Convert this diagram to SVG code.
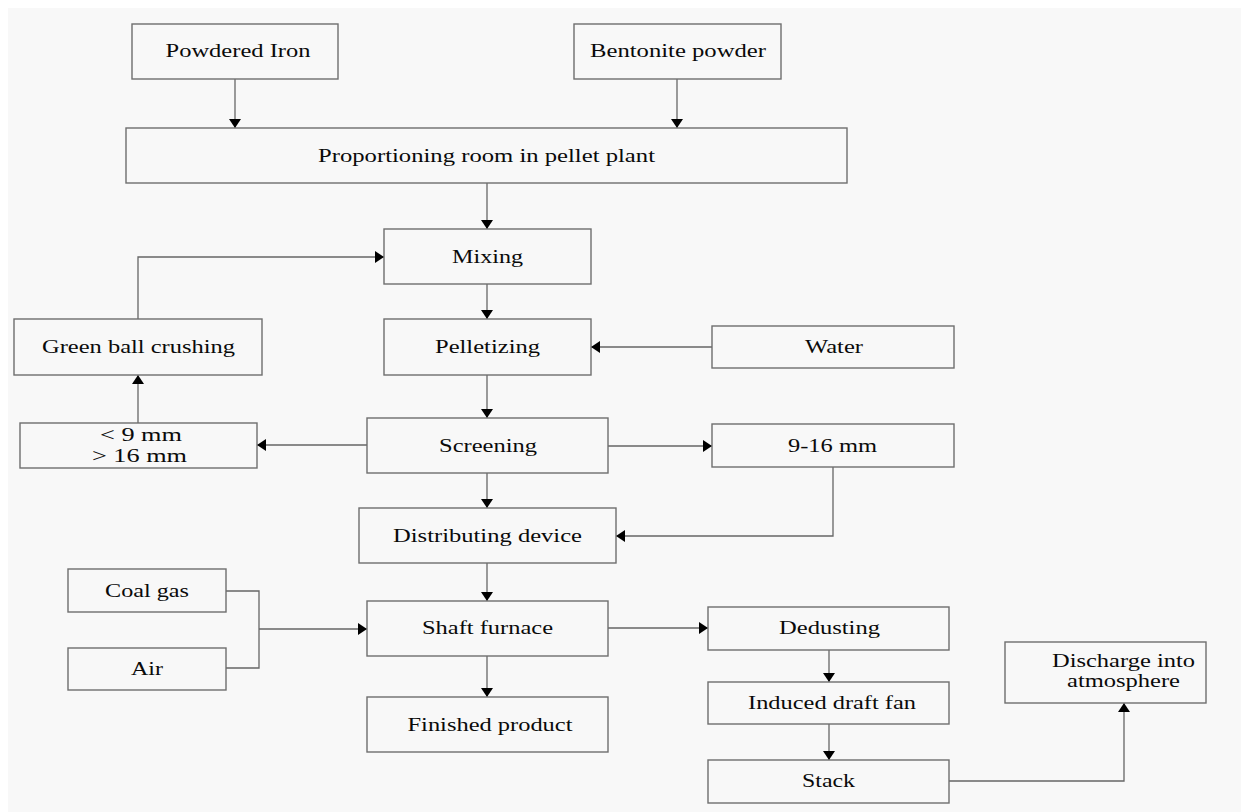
<svg xmlns="http://www.w3.org/2000/svg" width="1241" height="812" viewBox="0 0 1241 812">
<style>
.box{fill:none;stroke:#6e6e6e;stroke-width:1.4}
.lbl{font-family:"Liberation Serif","Times New Roman",serif;font-size:18px;fill:#0a0a0a;text-anchor:middle}
.con{fill:none;stroke:#666;stroke-width:1.3}
</style>
<defs>
<marker id="ah" viewBox="0 0 9 12" refX="9" refY="6" markerWidth="9" markerHeight="12" markerUnits="userSpaceOnUse" orient="auto">
<path d="M0,0 L9,6 L0,12 z" fill="#000"/>
</marker>
</defs>
<rect x="0" y="0" width="1241" height="812" fill="#ffffff"/>
<rect x="8" y="8" width="1233" height="804" fill="#f8f8f8"/>

<g id="connectors">
<path class="con" d="M235,79 V128" marker-end="url(#ah)"/>
<path class="con" d="M677,79 V128" marker-end="url(#ah)"/>
<path class="con" d="M487,183 V229" marker-end="url(#ah)"/>
<path class="con" d="M487,284 V319" marker-end="url(#ah)"/>
<path class="con" d="M487,375 V418" marker-end="url(#ah)"/>
<path class="con" d="M487,473 V508" marker-end="url(#ah)"/>
<path class="con" d="M487,563 V601" marker-end="url(#ah)"/>
<path class="con" d="M487,656 V697" marker-end="url(#ah)"/>
<path class="con" d="M712,347 H591" marker-end="url(#ah)"/>
<path class="con" d="M608,446 H712" marker-end="url(#ah)"/>
<path class="con" d="M367,445 H257" marker-end="url(#ah)"/>
<path class="con" d="M138,423 V375" marker-end="url(#ah)"/>
<path class="con" d="M138,319 V257 H384" marker-end="url(#ah)"/>
<path class="con" d="M833,467 V536 H616" marker-end="url(#ah)"/>
<path class="con" d="M226,591 H259 V668 H226"/>
<path class="con" d="M259,629 H367" marker-end="url(#ah)"/>
<path class="con" d="M608,628 H708" marker-end="url(#ah)"/>
<path class="con" d="M829,650 V682" marker-end="url(#ah)"/>
<path class="con" d="M829,724 V760" marker-end="url(#ah)"/>
<path class="con" d="M949,781 H1124 V703" marker-end="url(#ah)"/>
</g>

<g id="powdered-iron"><rect class="box" x="132" y="24" width="206" height="55"/><text class="lbl" x="238" y="57" textLength="145" lengthAdjust="spacingAndGlyphs">Powdered Iron</text></g>
<g id="bentonite"><rect class="box" x="574" y="24" width="207" height="55"/><text class="lbl" x="678" y="57" textLength="176" lengthAdjust="spacingAndGlyphs">Bentonite powder</text></g>
<g id="proportioning"><rect class="box" x="126" y="128" width="721" height="55"/><text class="lbl" x="486.5" y="162" textLength="337" lengthAdjust="spacingAndGlyphs">Proportioning room in pellet plant</text></g>
<g id="mixing"><rect class="box" x="384" y="229" width="207" height="55"/><text class="lbl" x="487.5" y="263" textLength="71" lengthAdjust="spacingAndGlyphs">Mixing</text></g>
<g id="pelletizing"><rect class="box" x="384" y="319" width="207" height="56"/><text class="lbl" x="487.5" y="353" textLength="105" lengthAdjust="spacingAndGlyphs">Pelletizing</text></g>
<g id="water"><rect class="box" x="712" y="326" width="242" height="42"/><text class="lbl" x="834" y="353" textLength="58" lengthAdjust="spacingAndGlyphs">Water</text></g>
<g id="green-ball"><rect class="box" x="14" y="319" width="248" height="56"/><text class="lbl" x="138.5" y="353" textLength="193" lengthAdjust="spacingAndGlyphs">Green ball crushing</text></g>
<g id="screening"><rect class="box" x="367" y="418" width="241" height="55"/><text class="lbl" x="488" y="452" textLength="98" lengthAdjust="spacingAndGlyphs">Screening</text></g>
<g id="oversize"><rect class="box" x="20" y="423" width="237" height="45"/><text class="lbl" x="141" y="441" textLength="82" lengthAdjust="spacingAndGlyphs">&lt; 9 mm</text><text class="lbl" x="139.5" y="462" textLength="95" lengthAdjust="spacingAndGlyphs">&gt; 16 mm</text></g>
<g id="size-9-16"><rect class="box" x="712" y="424" width="242" height="43"/><text class="lbl" x="832.5" y="452" textLength="89" lengthAdjust="spacingAndGlyphs">9-16 mm</text></g>
<g id="distributing"><rect class="box" x="359" y="508" width="257" height="55"/><text class="lbl" x="487.5" y="542" textLength="189" lengthAdjust="spacingAndGlyphs">Distributing device</text></g>
<g id="coal-gas"><rect class="box" x="68" y="569" width="158" height="43"/><text class="lbl" x="147" y="597" textLength="84" lengthAdjust="spacingAndGlyphs">Coal gas</text></g>
<g id="air"><rect class="box" x="68" y="648" width="158" height="42"/><text class="lbl" x="147" y="675" textLength="32" lengthAdjust="spacingAndGlyphs">Air</text></g>
<g id="shaft-furnace"><rect class="box" x="367" y="601" width="241" height="55"/><text class="lbl" x="487.5" y="634" textLength="131" lengthAdjust="spacingAndGlyphs">Shaft furnace</text></g>
<g id="finished"><rect class="box" x="367" y="697" width="241" height="55"/><text class="lbl" x="490" y="731" textLength="165" lengthAdjust="spacingAndGlyphs">Finished product</text></g>
<g id="dedusting"><rect class="box" x="708" y="607" width="241" height="43"/><text class="lbl" x="829.5" y="634" textLength="101" lengthAdjust="spacingAndGlyphs">Dedusting</text></g>
<g id="induced-fan"><rect class="box" x="708" y="682" width="241" height="42"/><text class="lbl" x="832" y="709" textLength="168" lengthAdjust="spacingAndGlyphs">Induced draft fan</text></g>
<g id="stack"><rect class="box" x="708" y="760" width="241" height="43"/><text class="lbl" x="828.5" y="787" textLength="53" lengthAdjust="spacingAndGlyphs">Stack</text></g>
<g id="discharge"><rect class="box" x="1005" y="642" width="201" height="61"/><text class="lbl" x="1123.5" y="667" textLength="143" lengthAdjust="spacingAndGlyphs">Discharge into</text><text class="lbl" x="1123.5" y="687" textLength="113" lengthAdjust="spacingAndGlyphs">atmosphere</text></g>
</svg>
